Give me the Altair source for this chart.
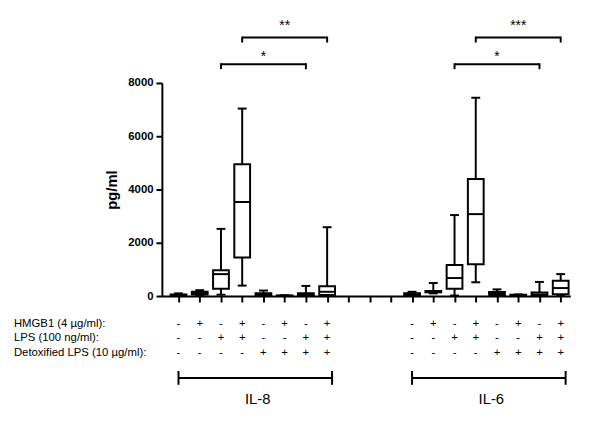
import altair as alt
import pandas as pd

# ---- data ----
positions = [1, 2, 3, 4, 5, 6, 7, 8, 12, 13, 14, 15, 16, 17, 18, 19]
cytokine = ["IL-8"] * 8 + ["IL-6"] * 8
whisker_min = [0, 20, 50, 392, 0, 0, 0, 0,
               0, 100, 20, 517, 0, 20, 0, 0]
quartile1 = [10, 60, 270, 1451, 20, 5, 10, 40,
             10, 140, 270, 1193, 40, 30, 10, 70]
median = [30, 110, 823, 3531, 70, 10, 50, 160,
          50, 165, 676, 3076, 80, 40, 60, 300]
quartile3 = [60, 160, 971, 4949, 110, 20, 110, 370,
             110, 190, 1167, 4395, 150, 50, 130, 577]
whisker_max = [100, 220, 2522, 7039, 207, 30, 380, 2585,
               160, 490, 3040, 7445, 250, 60, 530, 823]

hmgb1 = ["-", "+", "-", "+", "-", "+", "-", "+"] * 2
lps = ["-", "-", "+", "+", "-", "-", "+", "+"] * 2
detox = ["-", "-", "-", "-", "+", "+", "+", "+"] * 2
row_labels = ["HMGB1 (4 µg/ml):", "LPS (100 ng/ml):", "Detoxified LPS (10 µg/ml):"]
row_fields = ["hmgb1", "lps", "detox"]

sig_start = [3, 4, 14, 15]
sig_end = [7, 8, 18, 19]
sig_text = ["*", "**", "*", "***"]
sig_tier = [1, 2, 1, 2]

group_names = ["IL-8", "IL-6"]
group_start = [1, 12]
group_end = [8, 19]

x_ticks = list(range(1, 20))
y_ticks = [0, 2000, 4000, 6000, 8000]

# ---- tables ----
boxes = pd.DataFrame({
    "pos": positions, "cytokine": cytokine, "lo": whisker_min, "q1": quartile1,
    "med": median, "q3": quartile3, "hi": whisker_max,
})
signs = pd.DataFrame({"pos": positions, "hmgb1": hmgb1, "lps": lps, "detox": detox})
sig = pd.DataFrame({"start": sig_start, "end": sig_end, "label": sig_text, "tier": sig_tier})
groups = pd.DataFrame({"name": group_names, "start": group_start, "end": group_end})

FONT = "Liberation Sans"
xscale = alt.Scale(domain=[0.45, 19.22], nice=False, zero=False)
yscale = alt.Scale(domain=[0, 8000], nice=False, zero=True)

x_axis = alt.Axis(values=x_ticks, labels=False, title=None, tickSize=6,
                  tickWidth=2, domainWidth=2, domainColor="black",
                  tickColor="black", grid=False)
y_axis = alt.Axis(values=y_ticks, format="d", title="pg/ml", grid=False, tickSize=6,
                  tickWidth=2, domainWidth=2, domainColor="black",
                  tickColor="black", labelColor="black",
                  labelFont=FONT, labelFontSize=11.5, labelFontWeight="bold",
                  labelPadding=3, titleFont=FONT, titleFontSize=15,
                  titleFontWeight="bold", titleColor="black", titlePadding=8)


def X(f):
    return alt.X(f, scale=xscale, axis=x_axis, title=None)


def Y(f):
    return alt.Y(f, scale=yscale, axis=y_axis, title="pg/ml")


RULE = dict(color="black", strokeWidth=2)

whiskers = alt.Chart(boxes).mark_rule(**RULE).encode(x=X("pos:Q"), y=Y("lo:Q"), y2="hi:Q")
box = alt.Chart(boxes).mark_bar(size=16, fill="white", stroke="black", strokeWidth=2).encode(
    x=X("pos:Q"), y=Y("q1:Q"), y2="q3:Q")
med_rule = alt.Chart(boxes).mark_rule(xOffset=-8, x2Offset=8, **RULE).encode(
    x=X("pos:Q"), x2="pos:Q", y=Y("med:Q"))
cap_hi = alt.Chart(boxes).mark_rule(xOffset=-4.5, x2Offset=4.5, **RULE).encode(
    x=X("pos:Q"), x2="pos:Q", y=Y("hi:Q"))
cap_lo = alt.Chart(boxes).mark_rule(xOffset=-4.5, x2Offset=4.5, **RULE).encode(
    x=X("pos:Q"), x2="pos:Q", y=Y("lo:Q"))

layers = [whiskers, box, med_rule, cap_hi, cap_lo]

# treatment table rows
row_y = [244, 259, 274]
for field, label, yy in zip(row_fields, row_labels, row_y):
    layers.append(alt.Chart(signs).mark_text(font=FONT, fontSize=11.5, color="black",
                                             baseline="middle", align="center").encode(
        x=X("pos:Q"), y=alt.value(yy), text=f"{field}:N"))
    layers.append(alt.Chart(pd.DataFrame({"label": [label]})).mark_text(
        font=FONT, fontSize=11.5, color="black", baseline="middle", align="left").encode(
        x=alt.value(-150), y=alt.value(yy), text="label:N"))

# significance brackets
tier_y = {1: (-19, -14, -22), 2: (-46, -41, -54)}
for tier, (ybar, yend, ytxt) in tier_y.items():
    base = alt.Chart(sig).transform_filter(alt.datum.tier == tier)
    layers.append(base.mark_rule(**RULE).encode(
        x=X("start:Q"), x2="end:Q", y=alt.value(ybar)))
    layers.append(base.transform_fold(["start", "end"], as_=["side", "px"]).mark_rule(**RULE).encode(
        x=X("px:Q"), y=alt.value(ybar - 1), y2=alt.value(yend)))
    layers.append(base.transform_calculate(mid="(datum.start + datum.end) / 2").mark_text(
        font=FONT, fontSize=14, color="black", baseline="alphabetic", align="center").encode(
        x=X("mid:Q"), y=alt.value(ytxt), text="label:N"))

# cytokine group brackets
gbase = alt.Chart(groups)
layers.append(gbase.mark_rule(x2Offset=5, **RULE).encode(
    x=X("start:Q"), x2="end:Q", y=alt.value(299)))
layers.append(gbase.mark_rule(**RULE).encode(
    x=X("start:Q"), y=alt.value(292), y2=alt.value(306)))
layers.append(gbase.mark_rule(xOffset=5, **RULE).encode(
    x=X("end:Q"), y=alt.value(292), y2=alt.value(306)))
layers.append(gbase.transform_calculate(mid="(datum.start + datum.end) / 2").mark_text(
    font=FONT, fontSize=15, color="black", baseline="middle", align="center", dx=5).encode(
    x=X("mid:Q"), y=alt.value(320), text="name:N"))

chart = alt.layer(*layers).properties(
    width=414, height=216,
    padding={"left": 156, "top": 73, "right": 22, "bottom": 148},
    autosize=alt.AutoSizeParams(type="none"),
    background="white",
).configure_view(strokeWidth=0)

chart.save("out.html", embed_options={"renderer": "svg", "actions": False})
